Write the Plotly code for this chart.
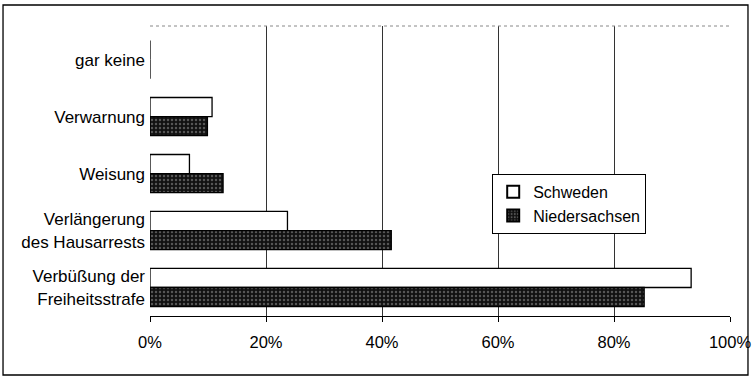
import plotly.graph_objects as go

categories = ["gar keine", "Verwarnung", "Weisung",
              "Verlängerung<br>des Hausarrests", "Verbüßung der<br>Freiheitsstrafe"]
schweden = [0.0, 0.107, 0.068, 0.237, 0.933]
niedersachsen = [0.0, 0.099, 0.126, 0.416, 0.852]
tick_vals = [0, 0.2, 0.4, 0.6, 0.8, 1.0]
tick_text = ["0%", "20%", "40%", "60%", "80%", "100%"]

FONT = "Liberation Sans, Arial, sans-serif"

fig = go.Figure()
fig.add_trace(go.Bar(
    y=categories, x=schweden, orientation="h", name="Schweden",
    marker=dict(color="white", line=dict(color="black", width=1.3)),
))
fig.add_trace(go.Bar(
    y=categories, x=niedersachsen, orientation="h", name="Niedersachsen",
    marker=dict(color="#111111", line=dict(color="black", width=1.3),
                pattern=dict(shape=".", fgcolor="#9a9a9a", bgcolor="#111111",
                             size=4, solidity=0.3)),
))

# dotted grid at 0 and 100 via a helper axis
fig.add_trace(go.Bar(y=categories, x=[None]*5, orientation="h", xaxis="x2",
                     showlegend=False, hoverinfo="skip"))

fig.update_layout(
    width=752, height=378,
    margin=dict(l=150, r=22, t=26, b=62, autoexpand=False),
    paper_bgcolor="white", plot_bgcolor="white",
    barmode="group", bargap=0.33, bargroupgap=0,
    font=dict(family=FONT, size=16, color="black"),
    showlegend=True,
    legend=dict(x=0.59, y=0.49, xanchor="left", yanchor="top",
                bgcolor="white", bordercolor="black", borderwidth=1,
                font=dict(size=16, family=FONT), traceorder="normal",
                itemsizing="constant", tracegroupgap=0,
                itemwidth=30),
    xaxis=dict(range=[0, 1], tickvals=tick_vals, ticktext=tick_text,
               showgrid=True, gridcolor="#333333", gridwidth=1,
               showline=True, linecolor="black", linewidth=1,
               ticks="outside", ticklen=5, tickcolor="black", automargin=False,
               zeroline=False, tickfont=dict(size=16.5), ticklabelstandoff=6),
    xaxis2=dict(range=[0, 1], overlaying="x", tickvals=[0, 1],
                showgrid=True, gridcolor="#aaaaaa", griddash="dot",
                showticklabels=False, zeroline=False, showline=False,
                side="bottom", automargin=False),
    yaxis=dict(range=[4.5, -0.59], showgrid=False, zeroline=False,
               showline=False, ticks="", ticklabelstandoff=4, automargin=False,
               tickfont=dict(size=17)),
)

# outer frame and dotted top border
fig.add_shape(type="rect", xref="paper", yref="paper",
              x0=-0.2534, x1=1.031, y0=-0.2034, y1=1.0724,
              line=dict(color="black", width=1.3), layer="below")
fig.add_shape(type="line", xref="paper", yref="paper",
              x0=0, x1=1, y0=1, y1=1,
              line=dict(color="#888888", width=1, dash="dot"))

fig.write_html("out.html", config={"displayModeBar": False},
               post_script="document.body.style.margin='0';document.body.style.padding='0';")
